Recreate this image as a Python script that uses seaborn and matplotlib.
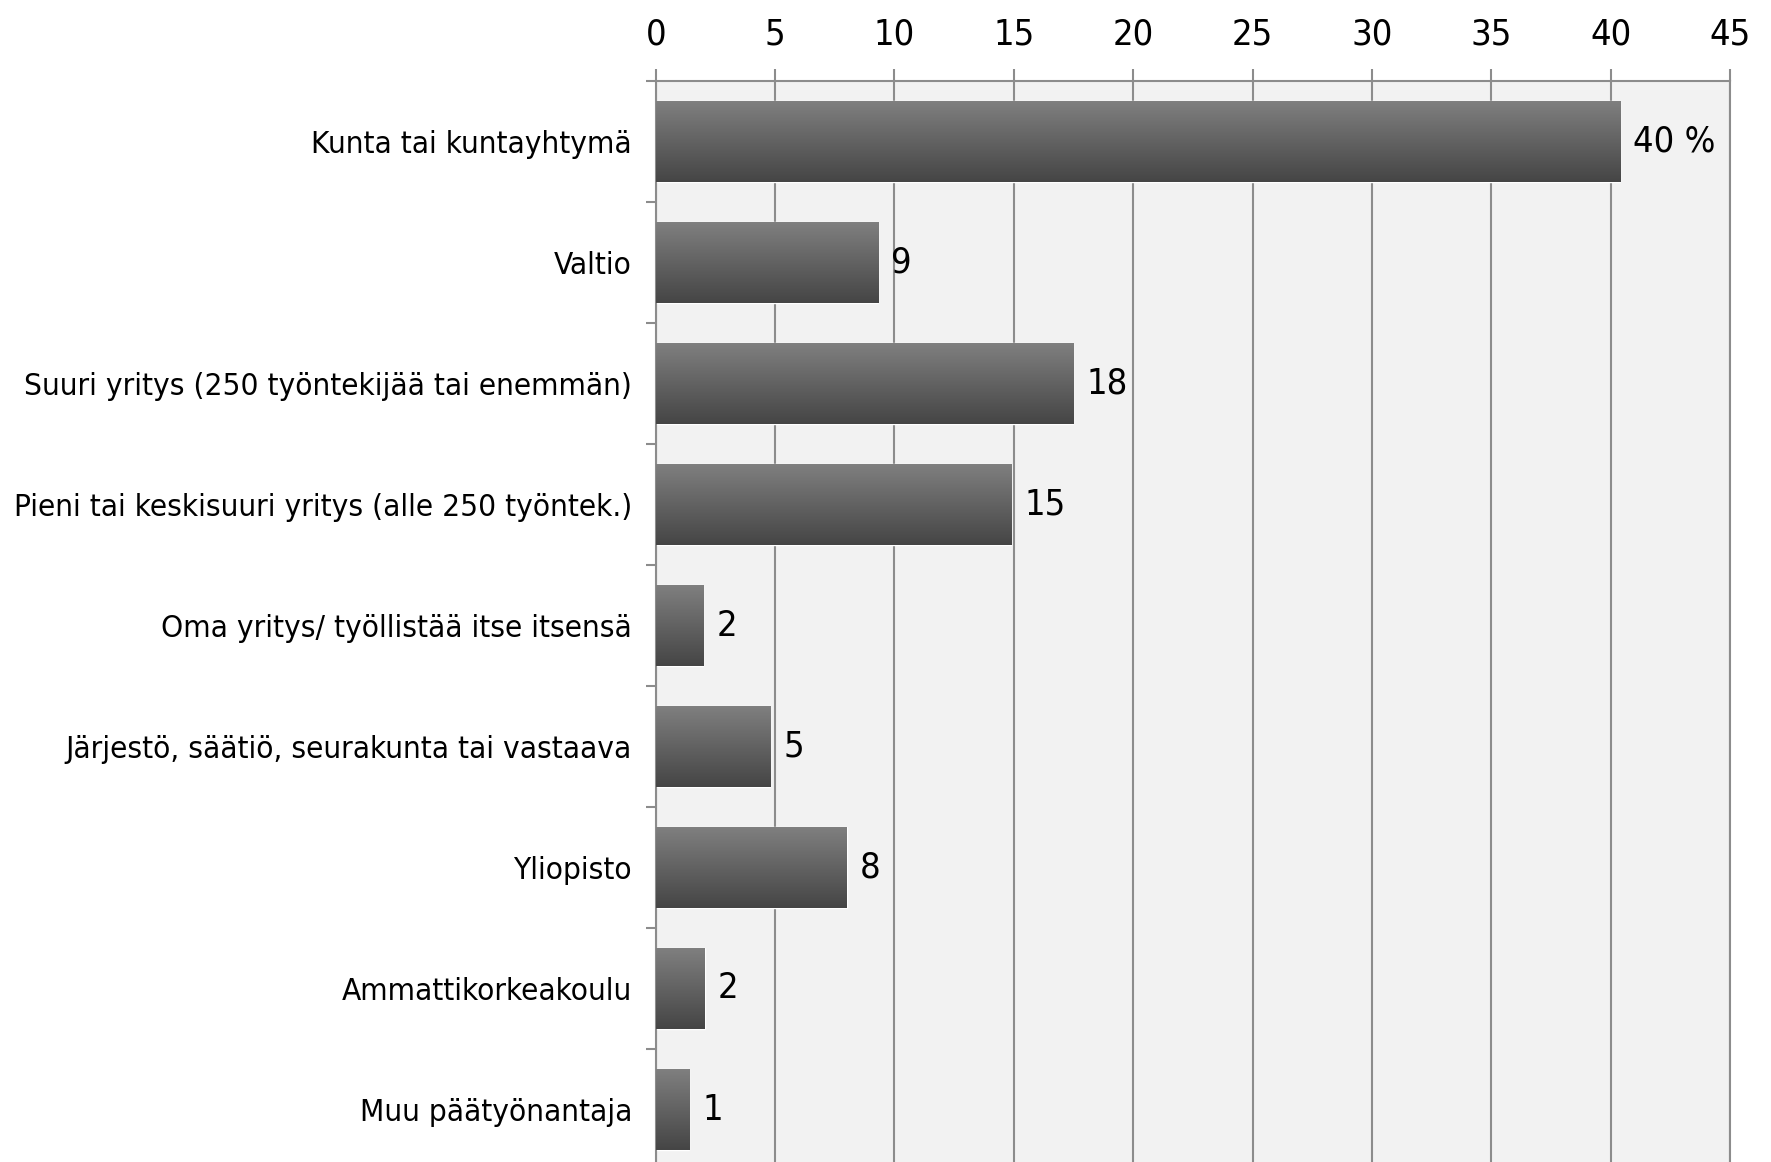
"""
    Työnantajasektori, vaakapylväskaavio
"""
import numpy as np
import pandas as pd
import matplotlib
matplotlib.use('Agg')
import matplotlib.pyplot as plt
import seaborn as sns
from matplotlib import font_manager
from matplotlib.colors import LinearSegmentedColormap
from matplotlib.ticker import FixedLocator

# Tiedot kuvasta
kategoriat = ['Kunta tai kuntayhtymä', 'Valtio',
              'Suuri yritys (250 työntekijää tai enemmän)',
              'Pieni tai keskisuuri yritys (alle 250 työntek.)',
              'Oma yritys/ työllistää itse itsensä',
              'Järjestö, säätiö, seurakunta tai vastaava',
              'Yliopisto', 'Ammattikorkeakoulu', 'Muu päätyönantaja']
osuudet = [40.4, 9.3, 17.5, 14.9, 2.0, 4.8, 8.0, 2.05, 1.4]
arvotekstit = ['40 %', '9', '18', '15', '2', '5', '8', '2', '1']
x_ticks = list(range(0, 50, 5))

df = pd.DataFrame({'kategoria': kategoriat, 'osuus': osuudet})

sns.set_style('white')
nimet = {f.name for f in font_manager.fontManager.ttflist}
if 'Liberation Sans Narrow' in nimet:
    plt.rcParams['font.family'] = ['Liberation Sans Narrow', 'DejaVu Sans']
    koko_y, koko_num = 25, 29
else:
    plt.rcParams['font.family'] = ['DejaVu Sans']
    plt.rcParams['font.stretch'] = 'condensed'
    koko_y, koko_num = 22.6, 26

harmaa = '#8c8c8c'
fig = plt.figure(figsize=(17.71, 11.62), dpi=100)
ax = fig.add_axes([655.7 / 1771, -8 / 1162, (1730 - 655.7) / 1771, 1089 / 1162])
ax.set_facecolor('#f2f2f2')

sns.barplot(data=df, x='osuus', y='kategoria', orient='h', color='#606060',
            width=0.67, ax=ax, zorder=2)

# Liukuväri pylväisiin
cmap = LinearSegmentedColormap.from_list('harmaa', ['#808080', '#454545'])
liuku = np.linspace(0, 1, 256).reshape(-1, 1)
for p, teksti in zip(ax.patches, arvotekstit):
    x0, y0, w, h = p.get_x(), p.get_y(), p.get_width(), p.get_height()
    im = ax.imshow(liuku, extent=[x0, x0 + w, y0 + h, y0], origin='upper',
                   cmap=cmap, aspect='auto', zorder=3)
    im.set_clip_path(p)
    ax.annotate(teksti, (x0 + w, y0 + h / 2), xytext=(9.5, 0),
                textcoords='offset points', ha='left', va='center',
                fontsize=koko_num, color='black')

ax.set_xlim(0, 45)
ax.set_ylim(8.5, -0.5)
ax.set_xticks(x_ticks)
ax.xaxis.tick_top()
ax.tick_params(axis='x', which='major', top=True, bottom=False, direction='out',
               length=8.6, width=1.5, color=harmaa, pad=12.5, labelsize=koko_num,
               labelcolor='black')
ax.yaxis.set_minor_locator(FixedLocator(np.arange(-0.5, 9, 1)))
ax.tick_params(axis='y', which='major', length=0, pad=17, labelsize=koko_y,
               labelcolor='black')
ax.tick_params(axis='y', which='minor', left=True, length=7, width=1.5,
               color=harmaa)
ax.set_xlabel('')
ax.set_ylabel('')

ax.set_axisbelow(True)
ax.grid(axis='x', color=harmaa, linewidth=1.5)
ax.grid(axis='y', visible=False)
for side in ['top', 'left', 'right']:
    ax.spines[side].set_visible(True)
    ax.spines[side].set_color(harmaa)
    ax.spines[side].set_linewidth(1.5)
ax.spines['bottom'].set_visible(False)

fig.savefig('out.png', dpi=100, facecolor='white')
